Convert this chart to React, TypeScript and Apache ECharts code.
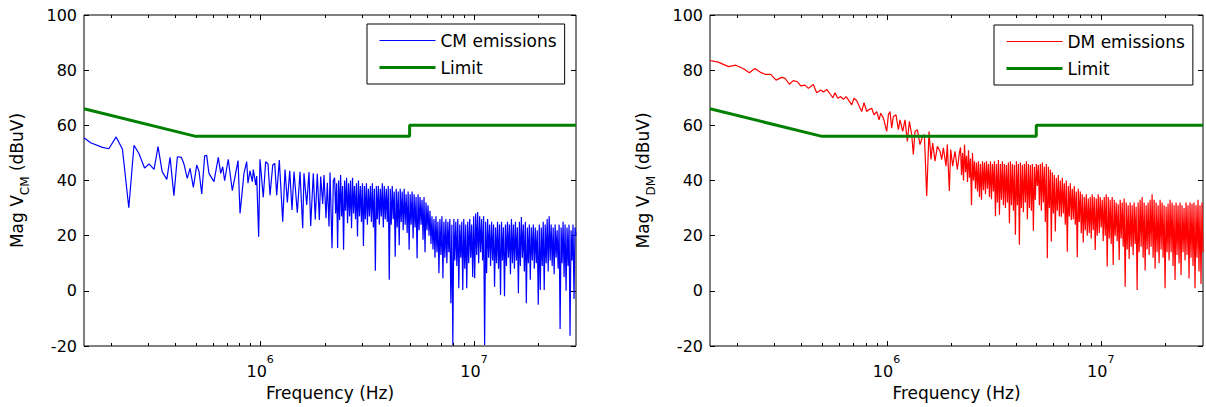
import React, { useEffect, useRef } from "react";
import * as echarts from "echarts";

const FONT = '"DejaVu Sans", Verdana, sans-serif';

// Axis ranges and tick values
const F_MIN = 150e3;
const F_MAX = 30e6;
const Y_MIN = -20;
const Y_MAX = 100;
const Y_STEP = 20;
const majorTickFreqs = [1e6, 1e7];
const minorTickFreqs = [
  2e5, 3e5, 4e5, 5e5, 6e5, 7e5, 8e5, 9e5,
  2e6, 3e6, 4e6, 5e6, 6e6, 7e6, 8e6, 9e6,
  2e7,
];

// Limit line (frequency in Hz, level in dBuV)
const limitFreq = [150e3, 500e3, 5e6, 5e6, 30e6];
const limitLevel = [66, 56, 56, 60, 60];

// CM emissions: resolved low-frequency points [kHz, dBuV]
const cmSparse: [number, number][] = [
  [150, 55.5], [161, 53.7], [183, 52.0], [196, 51.5], [212, 55.8], [227, 51.3], [243, 30.1],
  [257, 52.8], [271, 49.8], [288, 44.5], [302, 46], [319, 44], [333, 52.3], [348, 43.2],
  [366, 40.4], [379, 48.4], [395, 34.5], [410, 48.6], [428, 48.4], [440, 46], [456, 40.8],
  [470, 44.4], [487, 37.5], [505, 45.6], [518, 43.2], [533, 35.1], [550, 48.9], [562, 49.1],
  [576, 42.6], [608, 39.6], [637, 48.4], [654, 42.6], [668, 45], [682, 39.9], [709, 47.7],
  [741, 36.3], [788, 47.2], [805, 28.1], [840, 42.6], [865, 46.8], [877, 39], [896, 43.5],
  [919, 39.6], [929, 44], [953, 38.4], [963, 41.6], [984, 19.6], [998, 47.7], [1034, 33.9],
  [1061, 46.8], [1088, 46], [1112, 34.7], [1145, 45.6], [1170, 46.2], [1195, 34.7], [1229, 47.4],
  [1275, 25.1], [1307, 44], [1340, 32], [1375, 43.5], [1409, 29.3], [1440, 43.2], [1492, 28.3],
  [1536, 43.2], [1581, 22.7], [1603, 42.6], [1651, 31.1], [1692, 43.1], [1723, 23.5], [1772, 42.6],
  [1810, 25.9], [1850, 42.4], [1891, 25.7], [1919, 41.4], [1961, 31.5], [1988, 42], [2032, 26.3],
  [2061, 39.2], [2099, 23.3], [2122, 42.9], [2168, 15.4], [2199, 40],
];

// CM emissions: dense band, 2.23 MHz .. 30 MHz, log-spaced samples (dBuV)
const cmDenseStartKHz = 2230;
const cmDense = [
  41, 28, 39, 15.5, 40, 25.7, 42, 27, 38, 14.9, 40, 29, 41, 24.5, 39, 27, 40, 22.7, 41, 28, 38, 26, 39, 19.7, 40, 27, 38, 25, 39, 16.3,
  38, 26, 39, 24, 37, 27, 38, 25, 39, 23, 37, 7.3, 38, 26, 38, 24, 37, 27, 39, 23, 38, 26, 37, 25, 38, 4, 37, 24,
  38, 26, 36, 12.4, 37, 23, 36, 16.5, 37, 25, 36, 22, 37, 24, 35, 21, 36, 14.9, 35, 24, 36, 19, 35, 23, 34, 11.8, 35, 22, 34, 24, 33, 18.5, 34, 14, 32, 22,
  31, 20, 29, 17, 27, 15,
  26, 12, 27, 14, 25, 6.4, 26, 13, 27, 4.6, 25, 12, 26, 10, 25, 14, 26, -4.5, 24, -19.6, 26, 11, 25, 9, 26, 0.9, 24, 12, 25, 0.3, 26, 8, 24, 0.9, 25, 10, 26, 12, 24, 5,
  27, 4.6, 28, 13, 28.6, 10, 27, 14, 26, 11, 27, -19.6, 25, 6.4, 26, 12,
  24, 9, 25, 11, 24, 1.5, 23, 10, 25, 8, 24, -1.5, 25, 11, 23, -2, 24, 9, 25, 12, 24, 6, 26, 10, 24, 8, 25, 11, 23, -0.9, 25, 9, 26.8, 12, 24, 7, 25, -4.5, 23, 10, 24, 4,
  23, 11, 24, 8, 23, 10, 22, -5, 24, 0.3, 23, 9, 25, 0.3, 24, 10, 26, 7, 27, 11, 24, 9, 23, 6, 24, 12, 22, 8, 24, -13.8, 23, 10, 25, 5, 24, 0, 23, 9, 24, -16.3, 22, 11, 24, -3, 23, 20,
];

// DM emissions: resolved low-frequency points [kHz, dBuV]
const dmSparse: [number, number][] = [
  [150, 83.5], [164, 82.9], [183, 81.3], [198, 81.8], [215, 80.5], [229, 79.1], [243, 80.6],
  [257, 79.3], [271, 78.5], [288, 78.5], [305, 76.4], [324, 77.4], [336, 77], [352, 74.9],
  [367, 76.2], [384, 75.8], [398, 74.3], [416, 74.6], [432, 73.4], [455, 74.8], [472, 71.8],
  [493, 72.8], [507, 72.1], [526, 73], [541, 71.8], [561, 70], [575, 71.8], [592, 69.8],
  [611, 70.4], [629, 69.4], [647, 70.4], [664, 69.2], [688, 67.4], [705, 69.8], [726, 68.9],
  [747, 66.8], [766, 65], [785, 68.2], [808, 65], [832, 65.8], [853, 66.2], [874, 63.8],
  [900, 65], [923, 62], [939, 64.4], [967, 62.6], [1002, 57.8], [1020, 63.8], [1038, 65],
  [1057, 59], [1076, 63.2], [1107, 63.8], [1136, 58.4], [1156, 62], [1190, 57.8], [1220, 62],
  [1251, 54.2], [1278, 61.4], [1311, 56.6], [1334, 49.4], [1358, 57.8], [1393, 58.4], [1433, 53],
  [1464, 55.4], [1502, 56.6], [1540, 34.4], [1579, 57.8], [1613, 47.6], [1642, 53.6], [1684, 47],
  [1727, 52.4], [1777, 50.6], [1809, 47.6], [1842, 51.8], [1895, 45.2], [1922, 53], [1964, 36.2],
  [1993, 51.2], [2036, 45.2], [2088, 50.6], [2141, 44], [2188, 50],
];

// DM emissions: dense band, 2.215 MHz .. 30 MHz, log-spaced samples (dBuV)
const dmDenseStartKHz = 2215;
const dmDense = [
  52, 42, 50, 40, 53, 43, 49, 39.5, 51, 41, 48, 31, 50, 40, 47, 37, 46.5, 36, 47, 34, 46, 33, 47, 36.5, 46.5, 35, 47, 37, 46, 34, 47, 33.2,
  46, 36, 47, 27, 46, 32, 47.4, 27.6, 46, 33, 47, 31, 46, 30, 45.6, 32, 46.5, 24.5, 47, 31, 46, 29, 45.6, 20.3, 47, 31, 46, 16.7, 46.5, 30,
  45.6, 28.5, 46, 32, 47, 26, 46, 30, 45.6, 29, 46, 21.8, 45, 33, 46, 38, 45.6, 31, 46, 29, 46.5, 32, 45, 25, 46, 11.8, 45, 30, 44, 17.9,
  43, 28, 42, 21.5, 41, 29, 42, 27, 40, 26.9, 41, 28, 39, 24, 40, 14.2, 38, 27, 39, 25.7, 37, 26, 38, 24, 36, 12.2, 37, 25, 36, 20.9, 35, 17.5,
  34, 22, 35, 20, 33.5, 21, 34, 19, 35, 22, 34, 14.8, 33.5, 20, 35, 21, 34, 23, 33, 18, 34, 20, 35, 8.8, 34, 19, 33, 17, 34, 9.4, 33, 20, 32, 18,
  31.4, 11.2, 33, 19, 32, 16, 33.5, 1.5, 32, 15, 31, 11.5, 32, 16, 31, 13, 32, 17, 30.5, 0.3, 32, 14, 33, 16, 34, 12, 32, 7.4, 31, 15, 32, 13,
  33, 16, 35, 12, 33, 8, 32, 14, 31, 10, 33, 15, 32, 12, 31, 0.9, 30.5, 14, 31.6, 11, 33, 14, 32, 9, 31, 3.9, 32, 13, 31, 10, 32, 5.7, 31, 14,
  30, 11, 32, 13, 31, 4.5, 32, 12, 31.6, 9, 32, 0.9, 31, 12, 33, 7, 31, 2.5, 32, 14,
];

function buildEmission(sparse: [number, number][], dense: number[], denseStartKHz: number): [number, number][] {
  const out: [number, number][] = sparse.map(([f, v]) => [f * 1000, v]);
  const f0 = denseStartKHz * 1000;
  const n = dense.length;
  const ratio = F_MAX / f0;
  for (let i = 0; i < n; i++) {
    out.push([f0 * Math.pow(ratio, i / (n - 1)), dense[i]]);
  }
  return out;
}

const limitData = limitFreq.map((f, i) => [f, limitLevel[i]]);

function xLabelFormatter(v: number) {
  const e = Math.round(Math.log10(v));
  return Math.abs(v / Math.pow(10, e) - 1) < 1e-6 ? `{b|10}{s|${e}}` : "";
}

function makeX(gridIndex: number) {
  return {
    type: "log",
    logBase: 10,
    gridIndex,
    min: F_MIN,
    max: F_MAX,
    name: "Frequency (Hz)",
    nameLocation: "middle",
    nameGap: 38,
    nameTextStyle: { fontSize: 17, fontFamily: FONT, color: "#000" },
    axisLine: { show: false },
    axisTick: { show: false },
    splitLine: { show: false },
    minorTick: { show: false },
    axisLabel: {
      formatter: xLabelFormatter,
      margin: 8,
      showMinLabel: false,
      showMaxLabel: false,
      rich: {
        b: { fontSize: 16, fontFamily: FONT, color: "#000", lineHeight: 34 },
        s: { fontSize: 11, fontFamily: FONT, color: "#000", lineHeight: 12, verticalAlign: "top" },
      },
    },
  };
}

function makeY(gridIndex: number, sub: string) {
  return [
    {
      type: "value",
      gridIndex,
      min: Y_MIN,
      max: Y_MAX,
      interval: Y_STEP,
      position: "left",
      name: `{a|Mag V}{b|${sub}}{a| (dBuV)}`,
      nameLocation: "middle",
      nameGap: 53,
      nameTextStyle: {
        rich: {
          a: { fontSize: 17, fontFamily: FONT, color: "#000", lineHeight: 28 },
          b: { fontSize: 12, fontFamily: FONT, color: "#000", lineHeight: 12, verticalAlign: "bottom" },
        },
      },
      axisLine: { show: false },
      axisTick: { show: true, inside: true, length: 5, lineStyle: { color: "#000", width: 1 } },
      splitLine: { show: false },
      axisLabel: { fontSize: 16, fontFamily: FONT, color: "#000", margin: 7 },
    },
    {
      type: "value",
      gridIndex,
      min: Y_MIN,
      max: Y_MAX,
      interval: Y_STEP,
      position: "right",
      axisLine: { show: false },
      axisTick: { show: true, inside: true, length: 5, lineStyle: { color: "#000", width: 1 } },
      splitLine: { show: false },
      axisLabel: { show: false },
    },
  ];
}

const tickData = [
  ...majorTickFreqs.map((f) => [f, 1]),
  ...minorTickFreqs.map((f) => [f, 0]),
];

function tickSeries(xAxisIndex: number, yAxisIndex: number) {
  return {
    type: "custom",
    name: "xticks",
    xAxisIndex,
    yAxisIndex,
    silent: true,
    clip: false,
    z: 10,
    data: tickData,
    renderItem: (_params: any, api: any) => {
      const f = api.value(0);
      const len = api.value(1) ? 5 : 3;
      const pb = api.coord([f, Y_MIN]);
      const pt = api.coord([f, Y_MAX]);
      const x = Math.round(pb[0]) + 0.5;
      return {
        type: "group",
        children: [
          { type: "line", shape: { x1: x, y1: pb[1], x2: x, y2: pb[1] - len }, style: { stroke: "#000", lineWidth: 1 } },
          { type: "line", shape: { x1: x, y1: pt[1], x2: x, y2: pt[1] + len }, style: { stroke: "#000", lineWidth: 1 } },
        ],
      };
    },
  };
}

function legendFor(name: string, left: number, top: number) {
  return {
    data: [name, "Limit"],
    orient: "vertical",
    left,
    top,
    padding: [8, 8, 8, 11],
    itemWidth: 56,
    itemHeight: 14,
    itemGap: 10,
    borderColor: "#000",
    borderWidth: 1,
    backgroundColor: "#fff",
    selectedMode: false,
    itemStyle: { color: "rgba(0,0,0,0)", borderWidth: 0, opacity: 0 },
    lineStyle: { width: "inherit" },
    textStyle: { fontSize: 17, fontFamily: FONT, color: "#000" },
  };
}

export default function App() {
  const ref = useRef<HTMLDivElement>(null);
  useEffect(() => {
    if (!ref.current) return;
    const chart = echarts.init(ref.current, undefined, { renderer: "svg" });
    const cmData = buildEmission(cmSparse, cmDense, cmDenseStartKHz);
    const dmData = buildEmission(dmSparse, dmDense, dmDenseStartKHz);
    const gridCommon = { show: true, borderColor: "#000", borderWidth: 1, backgroundColor: "#fff", containLabel: false };
    chart.setOption({
      animation: false,
      backgroundColor: "#fff",
      grid: [
        { ...gridCommon, left: 84, top: 15, width: 492, height: 331 },
        { ...gridCommon, left: 710, top: 15, width: 493, height: 331 },
      ],
      legend: [legendFor("CM emissions", 367, 24), legendFor("DM emissions", 994, 25)],
      xAxis: [makeX(0), makeX(1)],
      yAxis: [...makeY(0, "CM"), ...makeY(1, "DM")],
      series: [
        {
          type: "line",
          name: "CM emissions",
          xAxisIndex: 0,
          yAxisIndex: 0,
          data: cmData,
          showSymbol: false,
          symbol: "none",
          lineStyle: { color: "#0000ff", width: 1.2 },
          itemStyle: { color: "#0000ff" },
          z: 2,
        },
        {
          type: "line",
          name: "Limit",
          xAxisIndex: 0,
          yAxisIndex: 0,
          data: limitData,
          showSymbol: false,
          symbol: "none",
          lineStyle: { color: "#008000", width: 3 },
          itemStyle: { color: "#008000" },
          z: 3,
        },
        {
          type: "line",
          name: "DM emissions",
          xAxisIndex: 1,
          yAxisIndex: 2,
          data: dmData,
          showSymbol: false,
          symbol: "none",
          lineStyle: { color: "#ff0000", width: 1.2 },
          itemStyle: { color: "#ff0000" },
          z: 2,
        },
        {
          type: "line",
          name: "Limit",
          xAxisIndex: 1,
          yAxisIndex: 2,
          data: limitData,
          showSymbol: false,
          symbol: "none",
          lineStyle: { color: "#008000", width: 3 },
          itemStyle: { color: "#008000" },
          z: 3,
        },
        tickSeries(0, 0),
        tickSeries(1, 2),
      ],
    });
    return () => chart.dispose();
  }, []);
  return (
    <div
      ref={ref}
      style={{ position: "absolute", left: 0, top: 0, width: 1206, height: 407, background: "#fff" }}
    />
  );
}
